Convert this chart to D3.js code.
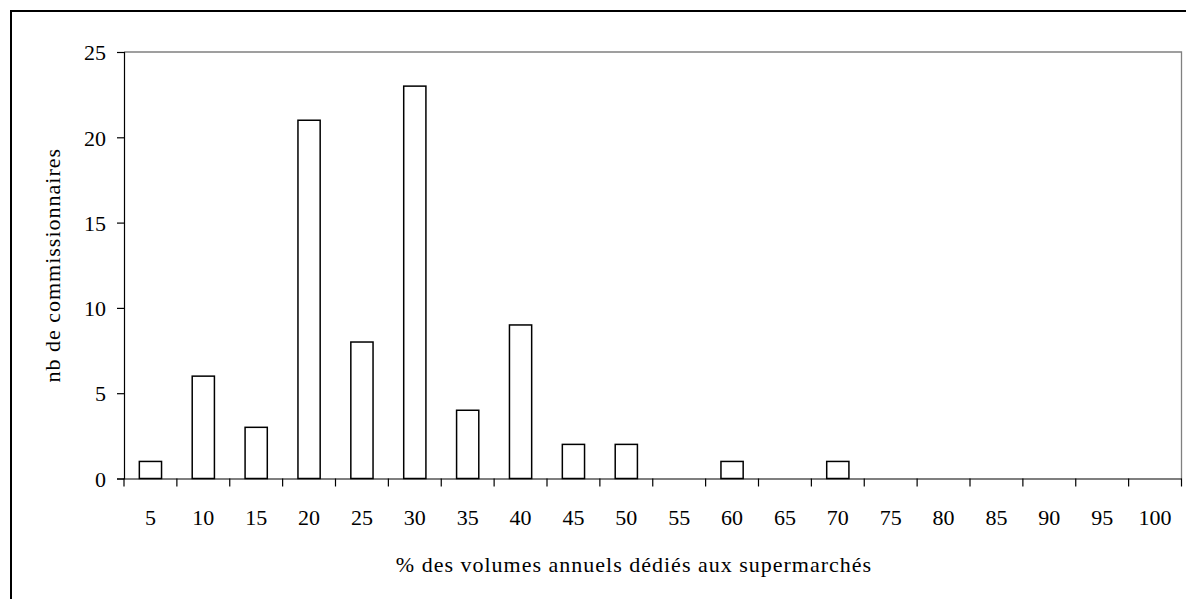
<!DOCTYPE html>
<html>
<head>
<meta charset="utf-8">
<script src="https://cdn.jsdelivr.net/npm/d3@7"></script>
<style>
  body { margin: 0; background: #fff; }
  svg { display: block; }
</style>
</head>
<body>
<svg id="chart" width="1186" height="599"></svg>
<script>
const categories = ["5","10","15","20","25","30","35","40","45","50","55","60","65","70","75","80","85","90","95","100"];
const counts = [1, 6, 3, 21, 8, 23, 4, 9, 2, 2, 0, 1, 0, 1, 0, 0, 0, 0, 0, 0];
const yTicks = [0, 5, 10, 15, 20, 25];
const xTitle = "% des volumes annuels dédiés aux supermarchés";
const yTitle = "nb de commissionnaires";

const FONT = "'Liberation Serif', 'Times New Roman', Times, 'DejaVu Serif', serif";
const svg = d3.select("#chart");
const plot = { left: 124, right: 1181.5, top: 52, bottom: 478.5 };

svg.append("path")
  .attr("d", `M11,610 L11,11 L1200,11`)
  .attr("fill", "none").attr("stroke", "#000").attr("stroke-width", 2);

const x = d3.scaleBand().domain(categories).range([plot.left, plot.right]).paddingInner(0).paddingOuter(0);
const y = d3.scaleLinear().domain([0, 25]).range([plot.bottom, plot.top]);

svg.append("path")
  .attr("d", `M${plot.left},${plot.top} L${plot.right},${plot.top} L${plot.right},${plot.bottom}`)
  .attr("fill", "none").attr("stroke", "#808080").attr("stroke-width", 1.3);

const barW = x.bandwidth() * 0.42;
svg.append("g").selectAll("rect")
  .data(categories.map((c, i) => ({ c, v: counts[i] })).filter(d => d.v > 0))
  .join("rect")
  .attr("x", d => x(d.c) + (x.bandwidth() - barW) / 2)
  .attr("y", d => y(d.v))
  .attr("width", barW)
  .attr("height", d => y(0) - y(d.v))
  .attr("fill", "#fff")
  .attr("stroke", "#000")
  .attr("stroke-width", 1.5);

const yAxis = svg.append("g").attr("transform", `translate(${plot.left},0)`)
  .call(d3.axisLeft(y).tickValues(yTicks).tickSize(7).tickPadding(11).tickFormat(d3.format("d")));
yAxis.attr("font-family", null).attr("font-size", null);
yAxis.select(".domain").attr("stroke", "#000").attr("stroke-width", 1.2);
yAxis.selectAll(".tick line").attr("stroke", "#000").attr("stroke-width", 1.2);
yAxis.selectAll(".tick text").attr("font-family", FONT).attr("font-size", 22).attr("fill", "#000").attr("dy", "0.35em");

const xAxisG = svg.append("g").attr("transform", `translate(0,${plot.bottom})`);
xAxisG.call(d3.axisBottom(x).tickSize(0).tickPadding(31));
xAxisG.attr("font-family", null).attr("font-size", null);
xAxisG.select(".domain").attr("stroke", "#000").attr("stroke-width", 1.2);
xAxisG.selectAll(".tick text").attr("font-family", FONT).attr("font-size", 22).attr("fill", "#000");
const boundaries = categories.map(c => x(c)).concat([plot.right]);
xAxisG.selectAll("line.bnd").data(boundaries).join("line").attr("class", "bnd")
  .attr("x1", d => d).attr("x2", d => d).attr("y1", 0).attr("y2", 8)
  .attr("stroke", "#000").attr("stroke-width", 1.2);

svg.append("text")
  .attr("x", 634)
  .attr("y", 572)
  .attr("text-anchor", "middle")
  .attr("font-family", FONT)
  .attr("font-size", 22)
  .attr("letter-spacing", 1)
  .text(xTitle);

svg.append("text")
  .attr("transform", `translate(60,${(plot.top + plot.bottom) / 2}) rotate(-90)`)
  .attr("text-anchor", "middle")
  .attr("font-family", FONT)
  .attr("font-size", 22)
  .attr("letter-spacing", 1)
  .text(yTitle);
</script>
</body>
</html>
